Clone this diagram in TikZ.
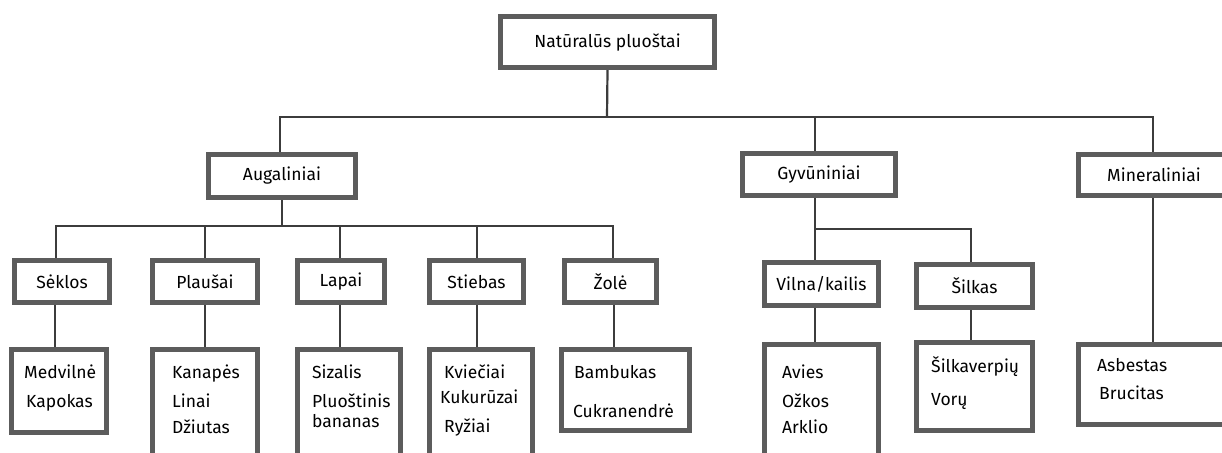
\documentclass[tikz,border=0pt]{standalone}
\usepackage{fontspec}
\setmainfont{Fira Sans}
\usetikzlibrary{backgrounds}
\definecolor{boxgray}{HTML}{5C5C5C}
\definecolor{linegray}{HTML}{3C3C3C}
\begin{document}
\begin{tikzpicture}[x=1pt,y=-1pt,
  box/.style={draw=boxgray, line width=5pt, fill=white, inner sep=0pt, text=black, font=\fontsize{17.5}{20}\selectfont},
  conn/.style={draw=linegray, line width=2.2pt},
  item/.style={anchor=base west, inner sep=0pt, text=black, font=\fontsize{17.5}{20}\selectfont}]
\useasboundingbox (0,0) rectangle (1222,452);
\clip (0,0) rectangle (1222,452);

% level 1
\node[box, minimum width=214pt, minimum height=51pt] (root) at (607.5,42) {Natūralūs pluoštai};
% level 2
\node[box, minimum width=147pt, minimum height=43pt] (aug) at (282,176) {Augaliniai};
\node[box, minimum width=153pt, minimum height=42pt] (gyv) at (819,174.5) {Gyvūniniai};
\node[box, minimum width=151pt, minimum height=41pt] (min) at (1154,175) {Mineraliniai};
% level 3
\node[box, minimum width=95pt, minimum height=42pt] (sek) at (62,281.5) {Sėklos};
\node[box, minimum width=105pt, minimum height=42pt] (pla) at (205,281.5) {Plaušai};
\node[box, minimum width=87pt, minimum height=42pt] (lap) at (341,281.5) {Lapai};
\node[box, minimum width=94pt, minimum height=42pt] (sti) at (476.5,281.5) {Stiebas};
\node[box, minimum width=92pt, minimum height=42pt] (zol) at (610.5,281.5) {Žolė};
\node[box, minimum width=114pt, minimum height=43pt] (vil) at (821.5,284) {Vilna/kailis};
\node[box, minimum width=116pt, minimum height=43pt] (sil) at (974.5,286) {Šilkas};
% level 4
\node[box, minimum width=95pt, minimum height=83pt] (med) at (59,391) {};
\node[box, minimum width=105pt, minimum height=118pt] (kan) at (205,408.5) {};
\node[box, minimum width=103pt, minimum height=118pt] (siz) at (349,408.5) {};
\node[box, minimum width=103pt, minimum height=118pt] (kvi) at (481,408.5) {};
\node[box, minimum width=128pt, minimum height=81pt] (bam) at (625.5,390) {};
\node[box, minimum width=114pt, minimum height=123pt] (avi) at (821.5,406) {};
\node[box, minimum width=116pt, minimum height=88pt] (silk) at (974.5,386.5) {};
\node[box, minimum width=151pt, minimum height=80pt] (asb) at (1154,384.5) {};

% texts of level 4
\node[item] (t1) at (24,378) {Medvilnė};
\node[item] (t2) at (26,407) {Kapokas};
\node[item] (t3) at (172,378) {Kanapės};
\node[item] (t4) at (172,407) {Linai};
\node[item] (t5) at (172,433) {Džiutas};
\node[item] (t6) at (312,378) {Sizalis};
\node[item] (t7) at (312,407) {Pluoštinis};
\node[item] (t8) at (312,427) {bananas};
\node[item] (t9) at (444,378) {Kviečiai};
\node[item] (t10) at (440,403) {Kukurūzai};
\node[item] (t11) at (444,432) {Ryžiai};
\node[item] (t12) at (574,378) {Bambukas};
\node[item] (t13) at (573,417) {Cukranendrė};
\node[item] (t14) at (782,378) {Avies};
\node[item] (t15) at (782,407) {Ožkos};
\node[item] (t16) at (782,433) {Arklio};
\node[item] (t17) at (931,372) {Šilkaverpių};
\node[item] (t18) at (931,405) {Vorų};
\node[item] (t19) at (1097,371) {Asbestas};
\node[item] (t20) at (1099,399) {Brucitas};

% bus and stem coordinates
\coordinate (j0) at (607,117);
\coordinate (xa) at (280,0);
\coordinate (xg) at (815,0);
\coordinate (xm) at (1153,0);
\coordinate (j1) at (282,226);
\coordinate (xs1) at (56,0);
\coordinate (xs2) at (205,0);
\coordinate (xs3) at (340,0);
\coordinate (xs4) at (477,0);
\coordinate (xs5) at (613,0);
\coordinate (j2) at (815,229);
\coordinate (xv) at (971,0);
\coordinate (xl1) at (55,0);
\coordinate (xl5) at (614,0);

\begin{pgfonlayer}{background}
  \fill[white] (0,0) rectangle (1222,452);
  % root to level 2
  \draw[conn] (root.south) -- (j0);
  \draw[conn] (aug.north -| xa) -- (j0 -| xa) -- (j0 -| xm) -- (min.north -| xm);
  \draw[conn] (gyv.north -| xg) -- (j0 -| xg);
  % Augaliniai to level 3
  \draw[conn] (aug.south) -- (j1);
  \draw[conn] (sek.north -| xs1) -- (j1 -| xs1) -- (j1 -| xs5) -- (zol.north -| xs5);
  \draw[conn] (pla.north -| xs2) -- (j1 -| xs2);
  \draw[conn] (lap.north -| xs3) -- (j1 -| xs3);
  \draw[conn] (sti.north -| xs4) -- (j1 -| xs4);
  % Gyvuniniai to level 3
  \draw[conn] (gyv.south -| xg) -- (vil.north -| xg);
  \draw[conn] (j2) -- (j2 -| xv) -- (sil.north -| xv);
  % level 3 to level 4
  \draw[conn] (sek.south -| xl1) -- (med.north -| xl1);
  \draw[conn] (pla.south -| xs2) -- (kan.north -| xs2);
  \draw[conn] (lap.south -| xs3) -- (siz.north -| xs3);
  \draw[conn] (sti.south -| xs4) -- (kvi.north -| xs4);
  \draw[conn] (zol.south -| xl5) -- (bam.north -| xl5);
  \draw[conn] (vil.south -| xg) -- (avi.north -| xg);
  \draw[conn] (sil.south -| xv) -- (silk.north -| xv);
  % Mineraliniai to its list
  \draw[conn] (min.south -| xm) -- (asb.north -| xm);
\end{pgfonlayer}
\end{tikzpicture}
\end{document}
